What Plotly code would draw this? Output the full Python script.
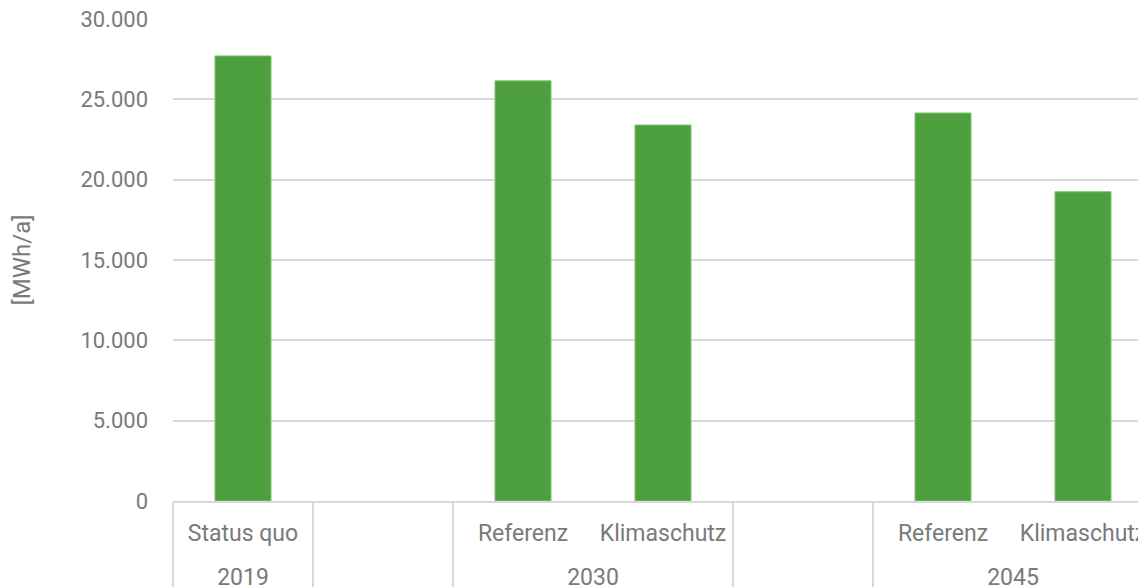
import plotly.graph_objects as go

groups = ["2019", " ", "2030", "2030", "  ", "2045", "2045"]
scenarios = ["Status quo", " ", "Referenz", "Klimaschutz", " ", "Referenz", "Klimaschutz"]
values = [27700, None, 26150, 23400, None, 24150, 19250]

y_ticks = [0, 5000, 10000, 15000, 20000, 25000, 30000]

font_family = "Roboto"
gray = "#7a7a7a"
grid = "#d9d9d9"

# a small second line pads the first row so the group row sits lower
scenario_labels = [s + "<br><span style='font-size:6px'> </span>" for s in scenarios]

fig = go.Figure(go.Bar(
    x=[groups, scenario_labels],
    y=values,
    marker=dict(color="#4e9f3d", line=dict(color="#7cc46c", width=1)),
    width=0.4,
    hoverinfo="y",
))

fig.update_layout(
    width=1138,
    height=579,
    margin=dict(l=165, r=0, t=11, b=86, pad=0),
    plot_bgcolor="white",
    paper_bgcolor="white",
    separators=",.",
    showlegend=False,
    font=dict(family=font_family, size=22, color=gray),
)

fig.update_xaxes(
    type="multicategory",
    range=[-0.5, 6.45],
    automargin=False,
    showgrid=False,
    showline=True,
    linecolor=grid,
    linewidth=2,
    showdividers=True,
    dividercolor=grid,
    dividerwidth=2,
    ticks="",
    ticklabelstandoff=10,
    ticklabeloverflow="allow",
    tickfont=dict(family=font_family, size=23, color=gray),
)

fig.update_yaxes(
    range=[0, 30000],
    automargin=False,
    tickvals=y_ticks,
    tickformat=",d",
    showgrid=True,
    gridcolor=grid,
    gridwidth=2,
    zeroline=False,
    ticklabelstandoff=24,
    ticklabeloverflow="allow",
    tickfont=dict(family=font_family, size=22, color=gray),
    title=dict(text="[MWh/a]", font=dict(family=font_family, size=24, color=gray), standoff=50),
)

fig.write_html("out.html")
